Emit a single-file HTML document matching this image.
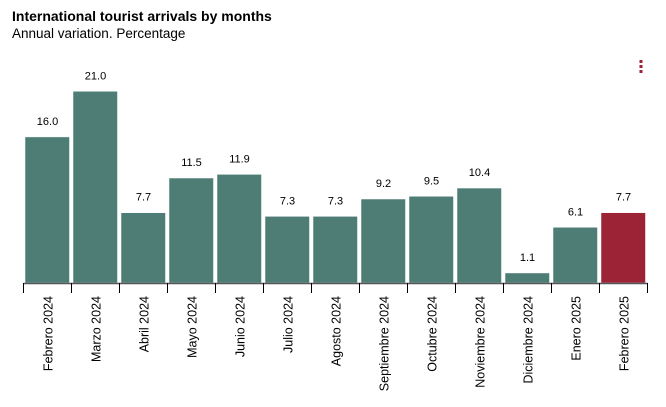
<!DOCTYPE html>
<html><head><meta charset="utf-8"><style>
body{margin:0;background:#fff;font-family:"Liberation Sans",sans-serif;}
</style></head><body>
<svg width="666" height="407" id="c" style="display:block">
<text x="12" y="21" font-size="14" font-weight="bold" fill="#000">International tourist arrivals by months</text>
<text x="12" y="38" font-size="13.5" fill="#000">Annual variation. Percentage</text>
<g fill="#9b2335">
<rect x="639.5" y="60" width="3" height="3"/><rect x="639.5" y="65" width="3" height="3"/><rect x="639.5" y="70" width="3" height="3"/>
</g>
<g id="bars"></g>
<line x1="23.5" x2="647.5" y1="283.5" y2="283.5" stroke="#555" stroke-width="1.5"/>
<g id="axis"></g>
</svg>
<script>
const categories=["Febrero 2024","Marzo 2024","Abril 2024","Mayo 2024","Junio 2024","Julio 2024","Agosto 2024","Septiembre 2024","Octubre 2024","Noviembre 2024","Diciembre 2024","Enero 2025","Febrero 2025"];
const values=[16.0,21.0,7.7,11.5,11.9,7.3,7.3,9.2,9.5,10.4,1.1,6.1,7.7];
const valueLabels=["16.0","21.0","7.7","11.5","11.9","7.3","7.3","9.2","9.5","10.4","1.1","6.1","7.7"];
const NS="http://www.w3.org/2000/svg";
const x0=23.5,slot=48,base=283,scale=9.13;
const xs=i=>x0+i*slot;
const ys=v=>base-v*scale;
const bars=document.getElementById('bars'),axis=document.getElementById('axis');
function mk(t,a){const e=document.createElementNS(NS,t);for(const k in a)e.setAttribute(k,a[k]);return e;}
categories.forEach((c,i)=>{
  const v=values[i];
  const r=mk('rect',{x:xs(i)+1.5,y:ys(v),width:44.5,height:base-ys(v),fill:i===categories.length-1?'#9b2335':'#4e7d75',stroke:'#fff','stroke-width':0.5});
  
  
  bars.appendChild(r);
  const t=mk('text',{x:xs(i)+slot/2,y:ys(v)-12,'font-size':11,'text-anchor':'middle',fill:'#000'});
  t.textContent=valueLabels[i];
  
  
  bars.appendChild(t);
  const tk=mk('line',{x1:xs(i),x2:xs(i),y1:283,y2:293,stroke:'#000','stroke-width':1});
  
  
  axis.appendChild(tk);
  const lx=xs(i)+slot/2+5,ly=296;
  const l=mk('text',{x:lx,y:ly,'font-size':12.5,'text-anchor':'end',fill:'#000',transform:`rotate(-90 ${lx} ${ly})`});
  l.textContent=c;
  
  
  axis.appendChild(l);
});
const tk=mk('line',{x1:xs(13),x2:xs(13),y1:283,y2:293,stroke:'#000','stroke-width':1});


axis.appendChild(tk);
</script>
</body></html>
